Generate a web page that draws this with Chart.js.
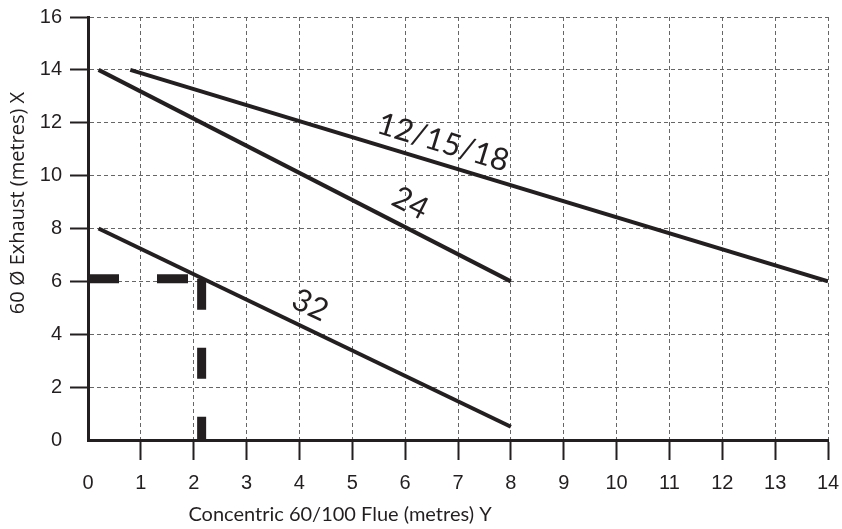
<!DOCTYPE html>
<html>
<head>
<meta charset="utf-8">
<script src="https://cdn.jsdelivr.net/npm/chart.js@4/dist/chart.umd.min.js"></script>
<style>
  body { margin: 0; background: #fff; }
  canvas { display: block; }
</style>
</head>
<body>
<canvas id="myChart" width="842" height="529"></canvas>
<script>
// flue length lines, x = concentric flue (m), y = 60 exhaust (m)
const seriesNames = ['12/15/18', '24', '32'];
const line121518X = [0.8, 14];
const line121518Y = [14, 6];
const line24X = [0.2, 8];
const line24Y = [14, 6];
const line32X = [0.2, 8];
const line32Y = [8, 0.5];
// worked example (thick dashed), split in two legs
const exampleAcrossX = [0, 2.15];
const exampleAcrossY = [6.1, 6.1];
const exampleDownX = [2.15, 2.15];
const exampleDownY = [6.1, 0];
const xTicks = [0, 1, 2, 3, 4, 5, 6, 7, 8, 9, 10, 11, 12, 13, 14];
const yTicks = [0, 2, 4, 6, 8, 10, 12, 14, 16];

const ink = '#231f20';
const toPoints = (xs, ys) => xs.map((x, i) => ({x: x, y: ys[i]}));

const lineStyle = {
  borderColor: ink,
  borderWidth: 4,
  pointRadius: 0,
  tension: 0,
  fill: false,
  borderCapStyle: 'butt',
};
const exampleStyle = {
  borderColor: ink,
  borderWidth: 9,
  borderDash: [31, 38],
  borderCapStyle: 'butt',
  pointRadius: 0,
  tension: 0,
  fill: false,
};

// label anchors in data units, one per series
const labelAnchors = [[6.72, 11.25], [6.1, 8.95], [4.2, 5.1]];

const annotations = {
  id: 'annotations',
  afterDatasetsDraw(chart) {
    const {ctx, scales: {x, y}} = chart;
    ctx.save();
    ctx.fillStyle = ink;
    ctx.font = '31px Lato';
    ctx.textAlign = 'center';
    ctx.textBaseline = 'middle';
    seriesNames.forEach((name, i) => {
      const pts = chart.getDatasetMeta(i).data;
      const a = pts[0], b = pts[pts.length - 1];
      const ang = Math.atan2(b.y - a.y, b.x - a.x);
      ctx.save();
      ctx.translate(x.getPixelForValue(labelAnchors[i][0]), y.getPixelForValue(labelAnchors[i][1]));
      ctx.rotate(ang);
      ctx.fillText(name, 0, 0);
      ctx.restore();
    });

    // axis titles
    ctx.font = '20px Lato';
    ctx.fillText('Concentric 60/100 Flue (metres) Y', 340, 515, 308);
    ctx.save();
    ctx.translate(18, 203);
    ctx.rotate(-Math.PI / 2);
    ctx.font = '20px "Open Sans"';
    ctx.fillText('60 \u00D8 Exhaust (metres) X', 0, 0, 237);
    ctx.restore();
    ctx.restore();
  }
};

const noZeroTick = (c) => c.tick && c.tick.value === 0 ? 'rgba(0,0,0,0)' : ink;

const $ctx = document.getElementById('myChart');
const myChart = new Chart($ctx, {
  type: 'line',
  data: {
    datasets: [
      Object.assign({label: seriesNames[0], data: toPoints(line121518X, line121518Y)}, lineStyle),
      Object.assign({label: seriesNames[1], data: toPoints(line24X, line24Y)}, lineStyle),
      Object.assign({label: seriesNames[2], data: toPoints(line32X, line32Y)}, lineStyle),
      Object.assign({label: 'example across', data: toPoints(exampleAcrossX, exampleAcrossY)}, exampleStyle),
      Object.assign({label: 'example down', data: toPoints(exampleDownX, exampleDownY)}, exampleStyle),
    ],
  },
  options: {
    responsive: false,
    animation: false,
    layout: {padding: {top: 17, right: 14, left: 0, bottom: 0}},
    plugins: {legend: {display: false}, tooltip: {enabled: false}},
    scales: {
      x: {
        type: 'linear',
        min: 0,
        max: 14,
        afterBuildTicks: (s) => { s.ticks = xTicks.map(v => ({value: v})); },
        afterFit: (s) => { s.height = 89; s.paddingLeft = 0; s.paddingRight = 0; },
        ticks: {
          color: ink,
          padding: 11,
          maxRotation: 0,
          font: {family: 'Liberation Sans', size: 20},
        },
        grid: {
          color: '#666',
          lineWidth: 1,
          tickLength: 20,
          tickWidth: 2,
          tickColor: noZeroTick,
        },
        border: {color: ink, width: 3, dash: [4, 3]},
      },
      y: {
        type: 'linear',
        min: 0,
        max: 16,
        afterBuildTicks: (s) => { s.ticks = yTicks.map(v => ({value: v})); },
        afterFit: (s) => { s.width = 88; s.paddingTop = 0; s.paddingBottom = 0; },
        ticks: {
          color: ink,
          padding: 8,
          font: {family: 'Liberation Sans', size: 20},
        },
        grid: {
          color: '#666',
          lineWidth: 1,
          tickLength: 18,
          tickWidth: 2,
          tickColor: noZeroTick,
        },
        border: {color: ink, width: 3, dash: [4, 3]},
      },
    },
  },
  plugins: [annotations],
});
</script>
</body>
</html>
